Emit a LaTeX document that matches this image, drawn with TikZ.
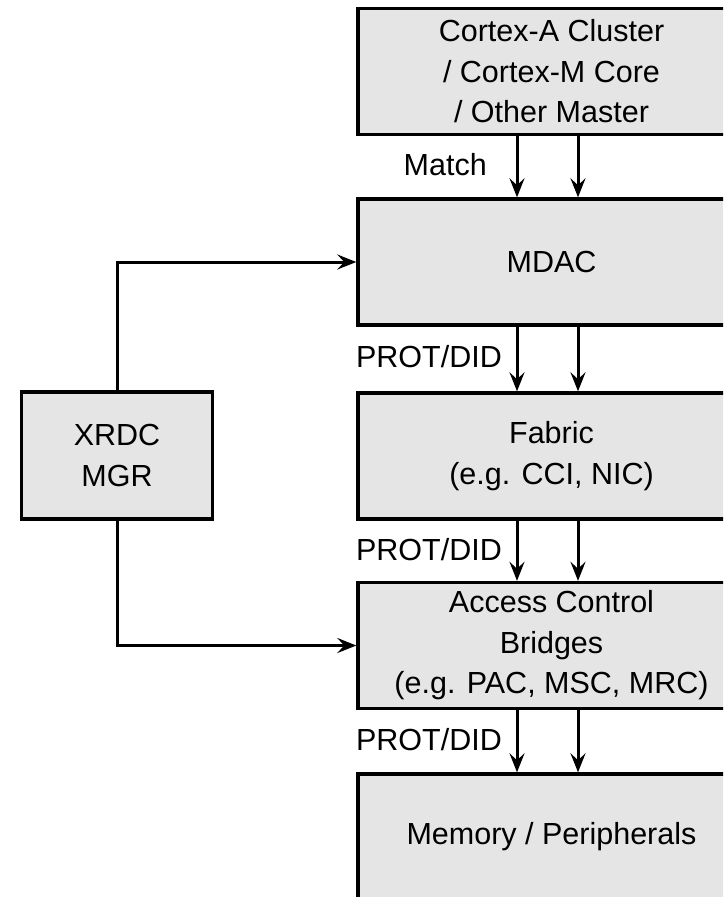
\documentclass[tikz,border=0pt]{standalone}
\usepackage{fontspec}
\setmainfont{Liberation Sans}
\usetikzlibrary{arrows.meta}
\definecolor{boxfill}{RGB}{229,229,229}
\tikzset{
  blk/.style={draw=black, fill=boxfill, line width=3.4pt, align=center,
    minimum width=387pt, minimum height=126pt, inner sep=0pt,
    font=\fontsize{30.5}{40.5}\selectfont},
  mgr/.style={blk, minimum width=191pt, minimum height=127pt},
  sig/.style={font=\fontsize{30.5}{36}\selectfont, anchor=east, inner sep=0pt},
  arr/.style={line width=3pt, -{Stealth[length=19pt, width=15pt, inset=7pt]}}
}
\begin{document}
\begin{tikzpicture}[x=1pt, y=-1pt]
  \useasboundingbox (0,0) rectangle (723,897);
  \clip (0,0) rectangle (723,897);

  % main column of blocks (right edges run off the page)
  \node[blk] (cpu)  at (551.5, 71.5)  {Cortex-A Cluster\\/ Cortex-M Core\\/ Other Master};
  \node[blk] (mdac) at (551.5, 262)   {MDAC};
  \node[blk] (fab)  at (551.5, 456)   {Fabric\\(e.g. CCI, NIC)};
  \node[blk] (acb)  at (551.5, 645.5) {Access Control\\Bridges\\(e.g. PAC, MSC, MRC)};
  \node[blk] (mem)  at (551.5, 837)   {Memory / Peripherals};

  % manager block on the left
  \node[mgr] (xrdc) at (117, 455.5) {XRDC\\MGR};

  % x positions of the two parallel signal lines
  \coordinate (la) at (517,0);
  \coordinate (lb) at (578,0);

  \foreach \a/\b in {cpu/mdac, mdac/fab, fab/acb, acb/mem}{
    \draw[arr] (\a.south -| la) -- (\b.north -| la);
    \draw[arr] (\a.south -| lb) -- (\b.north -| lb);
  }

  % signal labels
  \node[sig] (lm) at (487, 165) {Match};
  \node[sig] (l1) at (502, 357) {PROT/DID};
  \node[sig] (l2) at (502, 550) {PROT/DID};
  \node[sig] (l3) at (502, 740) {PROT/DID};

  % manager connections
  \draw[arr] (xrdc.north) |- (mdac.west);
  \draw[arr] (xrdc.south) |- (acb.west);
\end{tikzpicture}
\end{document}
